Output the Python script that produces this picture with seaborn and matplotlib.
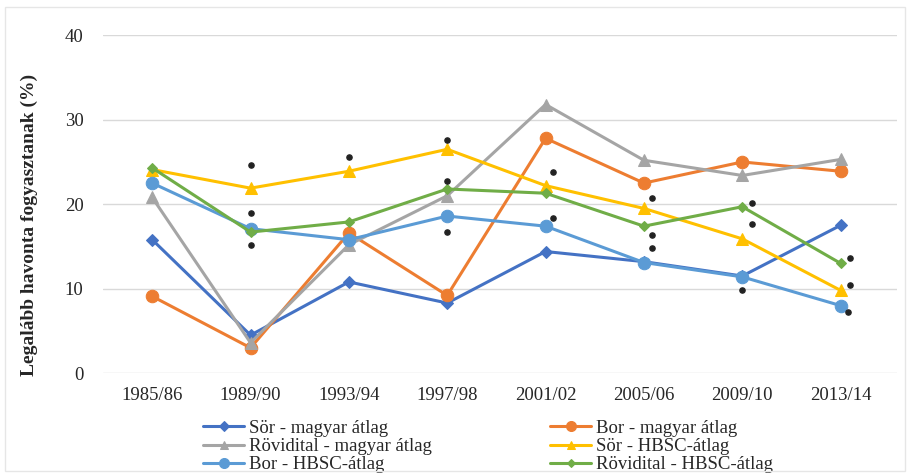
import numpy as np
import pandas as pd
import seaborn as sns
import matplotlib.pyplot as plt
from matplotlib.patches import Rectangle

years = ['1985/86', '1989/90', '1993/94', '1997/98', '2001/02', '2005/06', '2009/10', '2013/14']

sor_magyar = [15.8, 4.5, 10.8, 8.3, 14.4, 13.2, 11.5, 17.5]
bor_magyar = [9.1, 3.0, 16.6, 9.2, 27.8, 22.5, 25.0, 23.9]
rovid_magyar = [20.8, 3.6, 15.2, 21.0, 31.8, 25.2, 23.4, 25.3]
sor_hbsc = [24.1, 21.9, 23.9, 26.5, 22.2, 19.5, 15.9, 9.8]
bor_hbsc = [22.5, 17.1, 15.8, 18.6, 17.4, 13.1, 11.4, 8.0]
rovid_hbsc = [24.3, 16.7, 17.9, 21.8, 21.3, 17.4, 19.7, 13.0]

labels = ['Sör - magyar átlag', 'Bor - magyar átlag', 'Rövidital - magyar átlag',
          'Sör - HBSC-átlag', 'Bor - HBSC-átlag', 'Rövidital - HBSC-átlag']

# significance marks (year index, value)
sig_idx = [1, 1, 1, 2, 3, 3, 3, 4, 4, 5, 5, 5, 6, 6, 6, 7, 7, 7]
sig_val = [24.6, 18.9, 15.2, 25.6, 27.6, 22.8, 16.7, 23.8, 18.4, 20.7, 16.3, 14.8,
           20.1, 17.6, 9.8, 13.6, 10.4, 7.2]
sig_shift = [0, 0, 0, 0, 0, 0, 0, 0.08, 0.08, 0.08, 0.08, 0.08, 0.1, 0.1, 0, 0.1, 0.1, 0.08]

series = [sor_magyar, bor_magyar, rovid_magyar, sor_hbsc, bor_hbsc, rovid_hbsc]
colors = ['#4472C4', '#ED7D31', '#A5A5A5', '#FFC000', '#5B9BD5', '#70AD47']
markers = ['D', 'o', '^', '^', 'o', 'D']
msizes = [6, 9, 8, 8, 9, 5]

sns.set_style('white')
plt.rcParams['font.family'] = ['Liberation Serif', 'DejaVu Serif']

fig = plt.figure(figsize=(9.07, 4.76), dpi=100)
ax = fig.add_axes([0.1136, 0.216, 0.875, 0.71])

x = np.arange(len(years))
for vals, lab, c, m, ms in zip(series, labels, colors, markers, msizes):
    df = pd.DataFrame({'x': x, 'y': vals})
    sns.lineplot(data=df, x='x', y='y', color=c, marker=m, markersize=ms,
                 markeredgecolor=c, linewidth=2.2, ax=ax, label=lab)

ax.scatter(np.array(sig_idx) + np.array(sig_shift), sig_val, s=14, color='#222222', zorder=5)

ax.set_xlim(-0.5, len(years) - 0.43)
ax.set_ylim(0, 40)
ax.set_yticks([0, 10, 20, 30, 40])
ax.set_xticks(x)
ax.set_xticklabels(years)
ax.tick_params(axis='x', labelsize=13.5, length=0, pad=10)
ax.tick_params(axis='y', labelsize=13.5, length=0, pad=14)
ax.yaxis.grid(True, color='#d9d9d9', linewidth=1)
for s in ax.spines.values():
    s.set_visible(False)
ax.set_xlabel('')
ax.set_ylabel('Legalább havonta fogyasztanak (%)', fontsize=14, fontweight='bold')
ax.yaxis.set_label_coords(-0.082, 0.44)

h, l = ax.get_legend_handles_labels()
order = [0, 2, 4, 1, 3, 5]
ax.legend([h[i] for i in order], [l[i] for i in order], ncol=2, loc='upper center',
          bbox_to_anchor=(0.485, -0.105), frameon=False, fontsize=13.5,
          labelspacing=0.05, columnspacing=6.3, handlelength=2.2, handletextpad=0.25,
          borderpad=0.1, markerscale=0.8)

fig.patches.append(Rectangle((0.006, 0.01), 0.992, 0.975, transform=fig.transFigure,
                             fill=False, edgecolor='#e6e6e6', linewidth=1))

fig.savefig('out.png', dpi=100)
